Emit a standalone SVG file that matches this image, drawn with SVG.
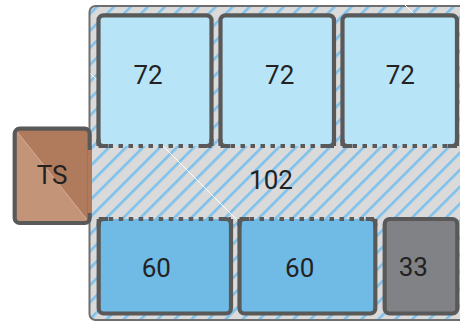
<svg xmlns="http://www.w3.org/2000/svg" width="460" height="322" viewBox="0 0 460 322">
<defs>
<pattern id="hatch" patternUnits="userSpaceOnUse" width="12" height="12" patternTransform="rotate(45)">
<rect width="12" height="12" fill="#dadada"/>
<rect x="0" y="0" width="2.6" height="12" fill="#7dc1ec"/>
</pattern>
<clipPath id="tsclip"><rect x="14.7" y="128.7" width="75" height="94.3" rx="5"/></clipPath>
</defs>
<style>
.lbl{font-family:Roboto,"Liberation Sans",sans-serif;font-size:26px;fill:#222;text-anchor:middle}
.edge{fill:none;stroke:#595959;stroke-width:4.2}
.dash{fill:none;stroke:#595959;stroke-width:4.2;stroke-dasharray:4.5 5.5}
.top{fill:#b8e4f8}
.bot{fill:#6fbbe6}
</style>
<g id="container">
<rect x="89.5" y="6" width="400" height="314" rx="6" fill="url(#hatch)" stroke="#6e6e6e" stroke-width="2"/>
</g>
<g id="connectors">
<line x1="90.5" y1="73.5" x2="244" y2="227" stroke="#ffffff" stroke-width="1"/>
<line x1="403" y1="3" x2="416" y2="16" stroke="#ffffff" stroke-width="1"/>
</g>
<g id="n72a">
<rect class="top" x="98.5" y="15.3" width="113" height="130.7" rx="5"/>
<path class="edge" d="M98.5,146 V20.3 a5,5 0 0 1 5,-5 H206.5 a5,5 0 0 1 5,5 V146"/>
<line class="dash" x1="98.5" y1="146" x2="211.5" y2="146"/>
<path class="edge" d="M98.5,139 V141 a5,5 0 0 0 5,5 H108 M211.5,139 V141 a5,5 0 0 1 -5,5 H202"/>
<text class="lbl" x="148" y="84">72</text>
</g>
<g id="n72b">
<rect class="top" x="220.5" y="15.3" width="113.5" height="130.7" rx="5"/>
<path class="edge" d="M220.5,146 V20.3 a5,5 0 0 1 5,-5 H329 a5,5 0 0 1 5,5 V146"/>
<line class="dash" x1="220.5" y1="146" x2="334" y2="146"/>
<path class="edge" d="M220.5,139 V141 a5,5 0 0 0 5,5 H230 M334,139 V141 a5,5 0 0 1 -5,5 H324.5"/>
<text class="lbl" x="279.7" y="84">72</text>
</g>
<g id="n72c">
<rect class="top" x="342.5" y="15.3" width="114.5" height="130.7" rx="5"/>
<path class="edge" d="M342.5,146 V20.3 a5,5 0 0 1 5,-5 H452 a5,5 0 0 1 5,5 V146"/>
<line class="dash" x1="342.5" y1="146" x2="457" y2="146"/>
<path class="edge" d="M342.5,139 V141 a5,5 0 0 0 5,5 H352 M457,139 V141 a5,5 0 0 1 -5,5 H447.5"/>
<text class="lbl" x="400.3" y="84">72</text>
</g>
<g id="n102">
<text class="lbl" x="271" y="189.3">102</text>
</g>
<g id="n60a">
<rect class="bot" x="98.7" y="219" width="132.3" height="94.5" rx="5"/>
<path class="edge" d="M98.7,219 V308.5 a5,5 0 0 0 5,5 H226 a5,5 0 0 0 5,-5 V219"/>
<line class="dash" x1="98.7" y1="219" x2="231" y2="219"/>
<path class="edge" d="M98.7,226 V224 a5,5 0 0 1 5,-5 H108 M231,226 V224 a5,5 0 0 0 -5,-5 H221.5"/>
<text class="lbl" x="156.3" y="276.7">60</text>
</g>
<g id="n60b">
<rect class="bot" x="239.5" y="219" width="135.8" height="94.5" rx="5"/>
<path class="edge" d="M239.5,219 V308.5 a5,5 0 0 0 5,5 H370.3 a5,5 0 0 0 5,-5 V219"/>
<line class="dash" x1="239.5" y1="219" x2="375.3" y2="219"/>
<path class="edge" d="M239.5,226 V224 a5,5 0 0 1 5,-5 H249 M375.3,226 V224 a5,5 0 0 0 -5,-5 H365.8"/>
<text class="lbl" x="299.7" y="276.7">60</text>
</g>
<g id="n33">
<rect x="384.7" y="219" width="72.6" height="94.5" rx="5" fill="#808285" stroke="#595959" stroke-width="4.2"/>
<text class="lbl" x="413.3" y="276">33</text>
</g>
<g id="nTS">
<g clip-path="url(#tsclip)">
<rect x="14.7" y="128.7" width="75" height="94.3" fill="#c49478"/>
<polygon points="14.7,128.7 89.7,128.7 89.7,223" fill="#b07a5c"/>
<line x1="14.7" y1="128.7" x2="89.7" y2="223" stroke="#d9b8a6" stroke-width="0.8"/>
</g>
<rect x="14.7" y="128.7" width="75" height="94.3" rx="5" fill="none" stroke="#595959" stroke-width="4.2"/>
<rect x="87.5" y="150" width="4.5" height="63" fill="#b07a5c"/>
<text class="lbl" x="52" y="184">TS</text>
</g>
</svg>
